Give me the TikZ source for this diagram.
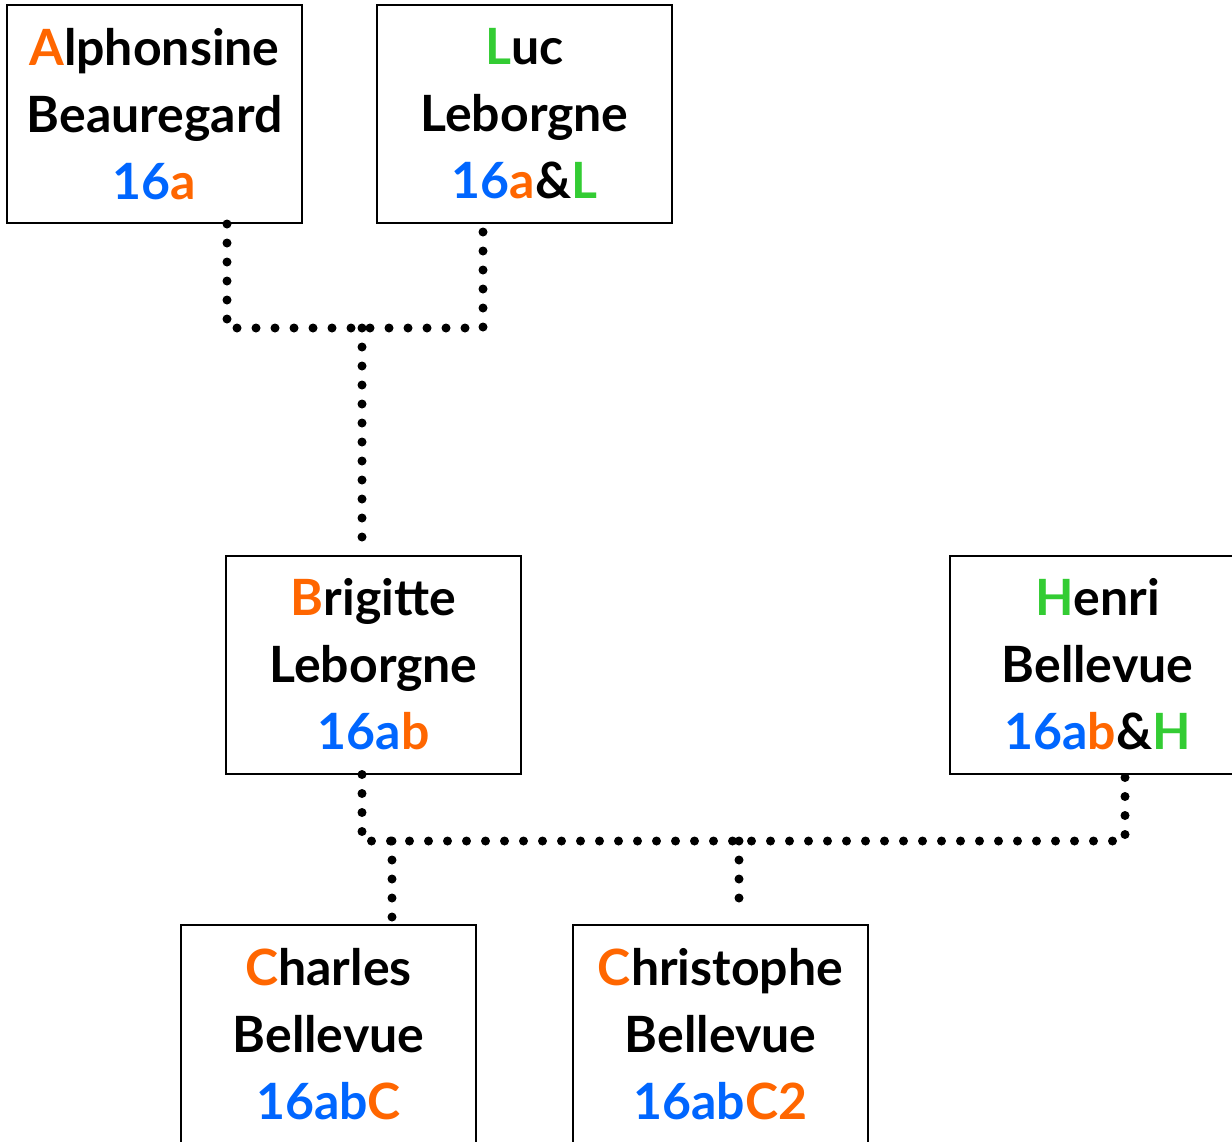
\documentclass[tikz,border=0pt]{standalone}
\usepackage{fontspec}
\setmainfont{Lato}
\usepackage{tikz}

\definecolor{orng}{RGB}{255,102,0}
\definecolor{blu}{RGB}{0,102,255}
\definecolor{grn}{RGB}{51,204,51}

\tikzset{
  person/.style={draw, line width=1pt, minimum width=147.5pt, minimum height=109pt,
    inner sep=0pt, align=center, font=\fontsize{25}{33.5}\selectfont\bfseries},
  kin/.style={line width=4.5pt, line cap=round, dash pattern=on 0pt off 9.5pt}
}

\begin{document}
\begin{tikzpicture} [x=0.5pt, y=-0.5pt]
    \useasboundingbox (0,0) rectangle (1232,1141);
    \node[person] (alph) at (154.5,114) {\textcolor{orng}{A}lphonsine\\Beauregard\\\textcolor{blu}{16}\textcolor{orng}{a}};
    \node[person] (luc) at (524.5,114) {\textcolor{grn}{L}uc\\Leborgne\\\textcolor{blu}{16}\textcolor{orng}{a}\&\textcolor{grn}{L}};
    \node[person] (brig) at (373.5,664.5) {\textcolor{orng}{B}rigitte\\Leborgne\\\textcolor{blu}{16a}\textcolor{orng}{b}};
    \node[person] (henri) at (1097.5,664.5) {\textcolor{grn}{H}enri\\Bellevue\\\textcolor{blu}{16a}\textcolor{orng}{b}\&\textcolor{grn}{H}};
    \node[person] (charles) at (328.5,1034) {\textcolor{orng}{C}harles\\Bellevue\\\textcolor{blu}{16ab}\textcolor{orng}{C}};
    \node[person] (chris) at (720.5,1034) {\textcolor{orng}{C}hristophe\\Bellevue\\\textcolor{blu}{16ab}\textcolor{orng}{C2}};

    \coordinate (j1) at (362,328);
    \coordinate (j1end) at (362,537);
    \coordinate (j2) at (739,841);
    \coordinate (j3) at (392,841);
    \coordinate (j4end) at (739,907);

    \draw[kin] ([xshift=36.25pt]alph.south) |- (j1) -| ([xshift=-20.75pt]luc.south);
    \draw[kin] (j1) -- (j1end);
    \draw[kin] ([xshift=-5.75pt]brig.south) |- (j2) -| ([xshift=13.75pt]henri.south);
    \draw[kin] (j3) -- (j3 |- charles.north);
    \draw[kin] (j2) -- (j4end);
  \end{tikzpicture}
\end{document}
